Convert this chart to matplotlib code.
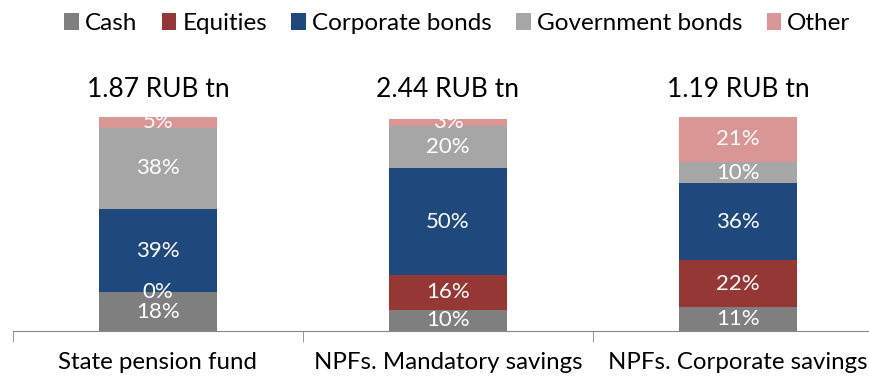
import numpy as np
import matplotlib.pyplot as plt

categories = ["State pension fund", "NPFs. Mandatory savings", "NPFs. Corporate savings"]
totals = ["1.87 RUB tn", "2.44 RUB tn", "1.19 RUB tn"]
series = ["Cash", "Equities", "Corporate bonds", "Government bonds", "Other"]
cash = [18, 10, 11]
equities = [0, 16, 22]
corporate = [39, 50, 36]
government = [38, 20, 10]
other = [5, 3, 21]
colors = ["#7F7F7F", "#953735", "#1F497D", "#A6A6A6", "#D99694"]

plt.rcParams['font.family'] = ['Lato', 'DejaVu Sans']

fig = plt.figure(figsize=(8.7, 3.79), dpi=100)
ax = fig.add_axes([13 / 870, 48 / 379, 1.0, 214 / 379])

x = np.arange(len(categories))
bottom = np.zeros(len(categories))
for name, vals, col in zip(series, [cash, equities, corporate, government, other], colors):
    vals = np.array(vals, dtype=float)
    ax.bar(x, vals, 0.407, bottom=bottom, color=col, label=name)
    for xi, b, v in zip(x, bottom, vals):
        ax.text(xi, b + v / 2, f"{v:.0f}%", ha='center', va='center',
                color='white', fontsize=16)
    bottom += vals

for xi, t in zip(x, totals):
    ax.annotate(t, (xi, 100), xytext=(0, 11), textcoords='offset points',
                ha='center', va='bottom', fontsize=19)

ax.set_xlim(-0.5, 2.5)
ax.set_ylim(0, 100)
for s in ['left', 'right', 'top']:
    ax.spines[s].set_visible(False)
ax.spines['bottom'].set_color('#888888')
ax.set_yticks([])
ax.set_xticks(x)
ax.set_xticklabels(categories, fontsize=17.3)
ax.tick_params(axis='x', which='major', length=0, pad=15)
ax.set_xticks([-0.5, 0.5, 1.5, 2.5], minor=True)
ax.tick_params(axis='x', which='minor', length=8, color='#888888')

fig.legend(loc='upper right', bbox_to_anchor=(0.993, 1.0), ncol=5, frameon=False,
           fontsize=17.5, handlelength=0.6, handleheight=0.7, handletextpad=0.25,
           columnspacing=1.0, borderaxespad=0.15)

fig.savefig('out.png')
